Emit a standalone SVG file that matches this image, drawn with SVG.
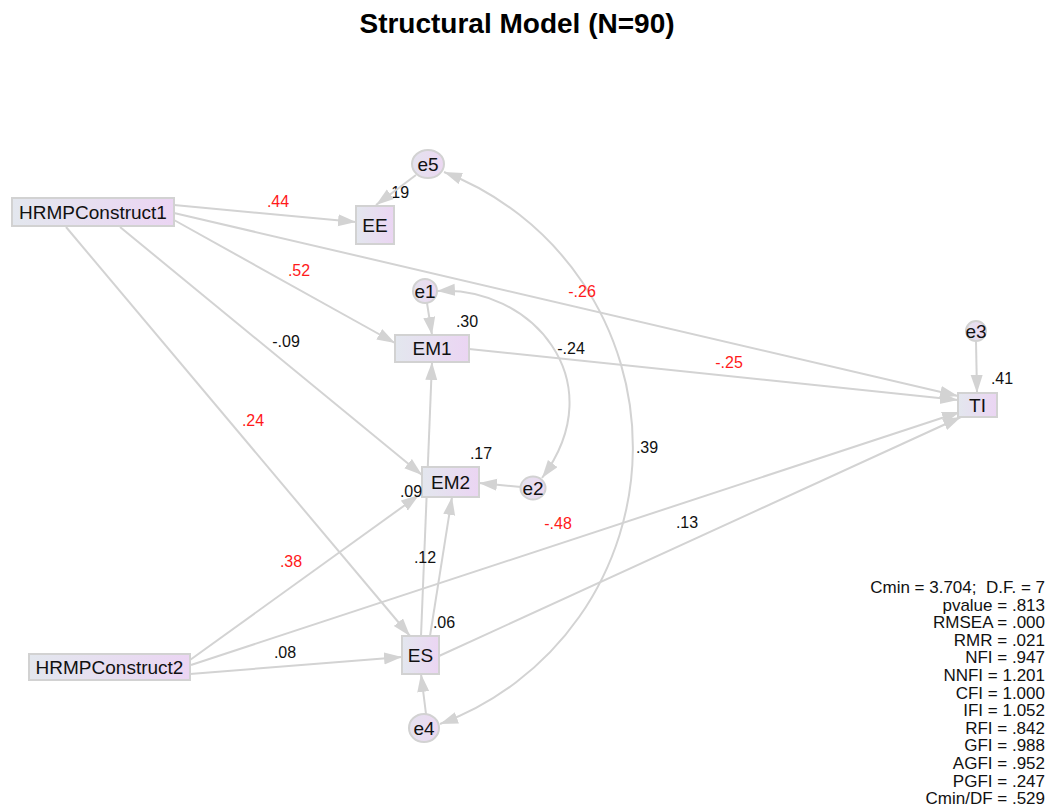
<svg xmlns="http://www.w3.org/2000/svg" width="1051" height="808" viewBox="0 0 1051 808">
<style>
.title{font-family:"Liberation Sans",Arial,sans-serif;font-size:28px;font-weight:bold;fill:#000;text-anchor:middle}
.box{fill:url(#gbox);stroke:#d2d2d2;stroke-width:2}
.err{fill:url(#gerr);stroke:#d2d2d2;stroke-width:2}
.nt{font-family:"Liberation Sans",Arial,sans-serif;font-size:19px;fill:#111;text-anchor:middle}
.edge{fill:none;stroke:#d3d3d3;stroke-width:2;marker-end:url(#arr)}
.cov{fill:none;stroke:#d3d3d3;stroke-width:2;marker-start:url(#arr);marker-end:url(#arr)}
.lb{font-family:"Liberation Sans",Arial,sans-serif;font-size:16px;fill:#111;text-anchor:middle}
.red{fill:#ff1a1a}
.st{font-family:"Liberation Sans",Arial,sans-serif;font-size:17px;fill:#111;text-anchor:end}
</style>
<defs>
<linearGradient id="gbox" x1="0" y1="0" x2="1" y2="0">
<stop offset="0" stop-color="#e3e7ee"/>
<stop offset="1" stop-color="#ebd5f3"/>
</linearGradient>
<linearGradient id="gerr" x1="0" y1="0" x2="1" y2="0">
<stop offset="0" stop-color="#e4e2ee"/>
<stop offset="1" stop-color="#ecd8f2"/>
</linearGradient>
<marker id="arr" markerUnits="userSpaceOnUse" markerWidth="19" markerHeight="13" refX="18" refY="6" orient="auto-start-reverse">
<path d="M0,0 L18,6 L0,12 z" fill="#d3d3d3"/>
</marker>
</defs>
<rect width="1051" height="808" fill="#fff"/>
<text class="title" x="517" y="33">Structural Model (N=90)</text>

<g id="labels-under">
<text class="lb" x="398" y="198">.19</text>
</g>

<g id="connectors">
<path class="edge" d="M174,205 L356,222"/>
<path class="edge" d="M174,213 L958,396"/>
<path class="edge" d="M174,220 L395,343"/>
<path class="edge" d="M120,227 L422,475"/>
<path class="edge" d="M66,227 L410,636"/>
<path class="edge" d="M416,175 L376,205"/>
<path class="edge" d="M427,303 L432,335"/>
<path class="edge" d="M469,349 L958,400"/>
<path class="edge" d="M976,341 L977,393"/>
<path class="edge" d="M521,487 L479,483"/>
<path class="edge" d="M421,636 L432,362"/>
<path class="edge" d="M430,636 L452,497"/>
<path class="edge" d="M190,660 L419,495"/>
<path class="edge" d="M191,665 L960,412"/>
<path class="edge" d="M190,674 L402,657"/>
<path class="edge" d="M439,656 L961,417"/>
<path class="edge" d="M426,714 L421,674"/>
<path class="cov" d="M437,291 C530,285 615,380 542,478"/>
<path class="cov" d="M444,172 A295,295 0 0 1 440,724"/>
</g>

<g id="HRMPConstruct1"><rect class="box" x="12" y="198" width="162" height="28"/><text class="nt" x="93" y="219">HRMPConstruct1</text></g>
<g id="HRMPConstruct2"><rect class="box" x="29" y="654" width="161" height="26"/><text class="nt" x="109.5" y="674">HRMPConstruct2</text></g>
<g id="EE"><rect class="box" x="356" y="206" width="38" height="38"/><text class="nt" x="375" y="232">EE</text></g>
<g id="EM1"><rect class="box" x="395" y="335" width="74" height="27"/><text class="nt" x="432" y="355">EM1</text></g>
<g id="EM2"><rect class="box" x="422" y="467" width="57" height="30"/><text class="nt" x="450.5" y="489">EM2</text></g>
<g id="ES"><rect class="box" x="402" y="636" width="37" height="38"/><text class="nt" x="420.5" y="662">ES</text></g>
<g id="TI"><rect class="box" x="958" y="393" width="39" height="24"/><text class="nt" x="977.5" y="412">TI</text></g>
<g id="e5"><ellipse class="err" cx="428" cy="164" rx="16" ry="14"/><text class="nt" x="428" y="171">e5</text></g>
<g id="e1"><ellipse class="err" cx="425" cy="291" rx="12" ry="12"/><text class="nt" x="425" y="298">e1</text></g>
<g id="e2"><ellipse class="err" cx="533" cy="488" rx="12.5" ry="11.5"/><text class="nt" x="533" y="495">e2</text></g>
<g id="e3"><ellipse class="err" cx="976" cy="331" rx="10" ry="10"/><text class="nt" x="976" y="338">e3</text></g>
<g id="e4"><ellipse class="err" cx="424" cy="728" rx="15" ry="14"/><text class="nt" x="424" y="735">e4</text></g>

<g id="edge-labels">
<text class="lb red" x="278" y="207">.44</text>
<text class="lb red" x="299" y="276">.52</text>
<text class="lb" x="286" y="347">-.09</text>
<text class="lb red" x="253" y="426">.24</text>
<text class="lb" x="467" y="327">.30</text>
<text class="lb red" x="582" y="297">-.26</text>
<text class="lb" x="571" y="354">-.24</text>
<text class="lb red" x="729" y="368">-.25</text>
<text class="lb" x="1002" y="384">.41</text>
<text class="lb" x="481" y="459">.17</text>
<text class="lb" x="647" y="453">.39</text>
<text class="lb" x="411" y="497">.09</text>
<text class="lb red" x="558" y="529">-.48</text>
<text class="lb" x="687" y="528">.13</text>
<text class="lb red" x="291" y="567">.38</text>
<text class="lb" x="425" y="563">.12</text>
<text class="lb" x="444" y="628">.06</text>
<text class="lb" x="285" y="658">.08</text>
</g>

<g id="fit-stats">
<text class="st" x="1045" y="593">Cmin = 3.704;&#160; D.F. = 7</text>
<text class="st" x="1045" y="610.6">pvalue = .813</text>
<text class="st" x="1045" y="628.2">RMSEA = .000</text>
<text class="st" x="1045" y="645.8">RMR = .021</text>
<text class="st" x="1045" y="663.4">NFI = .947</text>
<text class="st" x="1045" y="681">NNFI = 1.201</text>
<text class="st" x="1045" y="698.6">CFI = 1.000</text>
<text class="st" x="1045" y="716.2">IFI = 1.052</text>
<text class="st" x="1045" y="733.8">RFI = .842</text>
<text class="st" x="1045" y="751.4">GFI = .988</text>
<text class="st" x="1045" y="769">AGFI = .952</text>
<text class="st" x="1045" y="786.6">PGFI = .247</text>
<text class="st" x="1045" y="804.2">Cmin/DF = .529</text>
</g>
</svg>
